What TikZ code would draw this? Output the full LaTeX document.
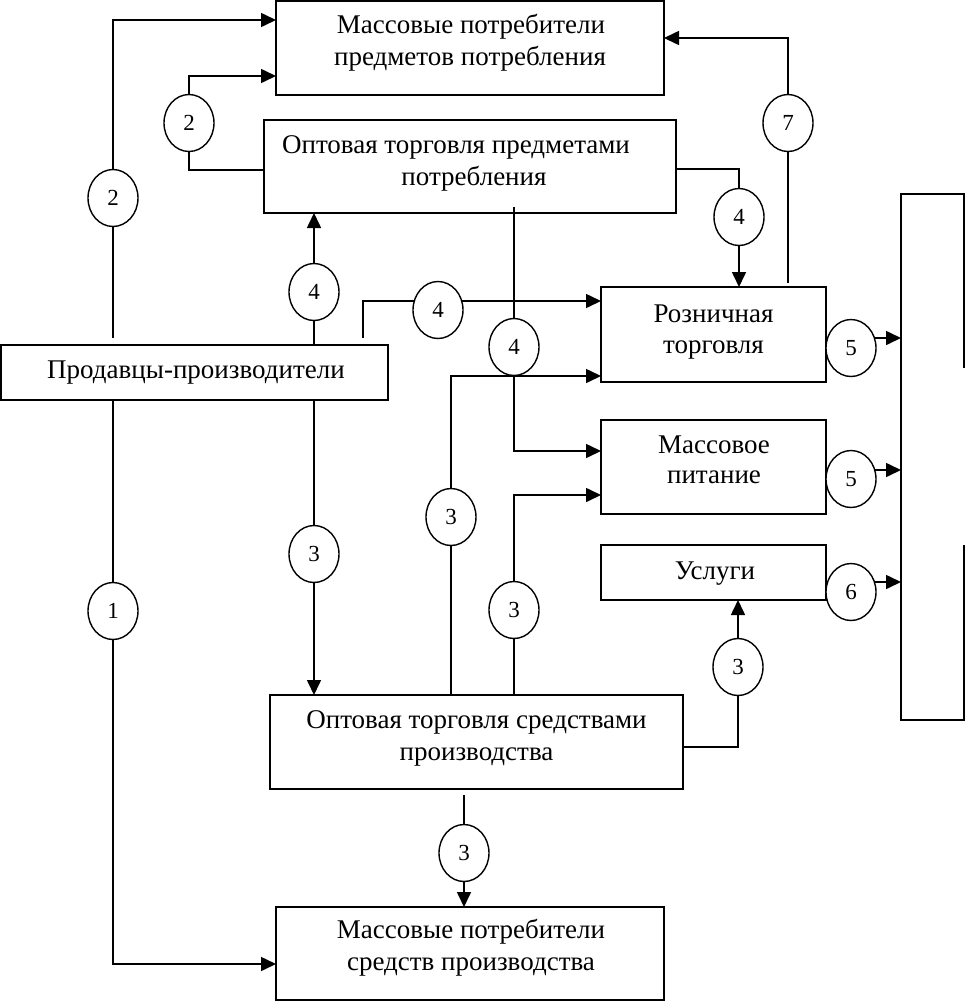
\documentclass[tikz,border=0pt]{standalone}
\usepackage{fontspec}
\setmainfont{Liberation Serif}
\usetikzlibrary{arrows.meta,shapes.geometric,backgrounds,calc}
\begin{document}
\begin{tikzpicture}[x=1pt,y=-1pt,
  box/.style args={#1/#2}{draw, line width=1.8pt, minimum width=#1pt, minimum height=#2pt, inner sep=0pt, outer sep=0pt},
  ghost/.style args={#1/#2}{minimum width=#1pt, minimum height=#2pt, inner sep=0pt, outer sep=0pt},
  txt/.style={font=\fontsize{27}{32}\selectfont, inner sep=0pt, anchor=base},
  circ/.style={ellipse, draw, line width=1.4pt, fill=white, minimum width=50pt, minimum height=57pt, inner sep=0pt, outer sep=0pt, font=\fontsize{23}{23}\selectfont},
  arr/.style={line width=1.6pt, -{Triangle[length=15pt,width=14pt]}},
  conn/.style={line width=1.6pt}]
\useasboundingbox (0,0) rectangle (965,1002);
% boxes
\node[box=388/94] (A) at (470,48) {};
\node[box=412/93] (B) at (470,166.5) {};
\node[box=387/55] (C) at (194.5,372.5) {};
\node[box=225/95] (D) at (713.5,334.5) {};
\node[box=225/94] (E) at (713.5,467) {};
\node[box=225/55] (F) at (713.5,572.5) {};
\node[box=413/94] (G) at (476.5,742) {};
\node[box=388/93] (H) at (470,953.5) {};
\node[ghost=63/526] (R) at (932.5,457) {};
\draw[line width=1.8pt] ($(R.north east)+(0,174)$) -- (R.north east) -- (R.north west) -- (R.south west) -- (R.south east) -- ($(R.south east)+(0,-175)$);
% texts
\node[txt] (tA1) at (471,33) {Массовые потребители};
\node[txt] (tA2) at (470,65) {предметов потребления};
\node[txt] (tB1) at (456,153) {Оптовая торговля предметами};
\node[txt] (tB2) at (474,185) {потребления};
\node[txt] (tC) at (196,378) {Продавцы-производители};
\node[txt] (tD1) at (713.5,322) {Розничная};
\node[txt] (tD2) at (713.5,353) {торговля};
\node[txt] (tE1) at (714,453) {Массовое};
\node[txt] (tE2) at (714,483) {питание};
\node[txt] (tF) at (715,579) {Услуги};
\node[txt] (tG1) at (476.5,728) {Оптовая торговля средствами};
\node[txt] (tG2) at (476.5,760) {производства};
\node[txt] (tH1) at (471,938) {Массовые потребители};
\node[txt] (tH2) at (471,970) {средств производства};
% circles
\node[circ] (e1) at (113,198) {2};
\node[circ] (e2) at (189,123) {2};
\node[circ] (e3) at (314,292) {4};
\node[circ] (e4) at (438,310) {4};
\node[circ] (e5) at (739,217) {4};
\node[circ] (e6) at (788,123) {7};
\node[circ] (e7) at (514,347) {4};
\node[circ] (e8) at (451,517) {3};
\node[circ] (e9) at (514,610) {3};
\node[circ] (e10) at (314,554) {3};
\node[circ] (e11) at (113,611) {1};
\node[circ] (e12) at (464,853) {3};
\node[circ] (e13) at (738,667) {3};
\node[circ] (e14) at (851,348) {5};
\node[circ] (e15) at (851,479) {5};
\node[circ] (e16) at (851,592) {6};
\coordinate (p14) at ($(e14.east)+(-1,-10)$);
\coordinate (p15) at ($(e15.east)+(-1,-9)$);
\coordinate (p16) at ($(e16.east)+(-1,-10)$);
\begin{pgfonlayer}{background}
\draw[arr] ($(e1 |- C.north)+(0,-7)$) -- (e1.center) |- ($(A.west)+(0,-28)$);
\draw[arr] ($(B.west)+(0,3.5)$) -| (e2.center) |- ($(A.west)+(0,28)$);
\draw[arr] (e3 |- C.north) -- (e3 |- B.south);
\draw[arr] ($(C.north)+(168.5,-7)$) |- ($(D.west)+(0,-33.5)$);
\draw[arr] ($(B.east)+(0,2.5)$) -| (e5.center) -- (e5 |- D.north);
\draw[arr] ($(e6 |- D.north)+(0,-4)$) -- (e6.center) |- ($(A.east)+(0,-10)$);
\draw[arr] ($(e7 |- B.south)+(0,-6)$) -- (e7.center) |- ($(E.west)+(0,-16)$);
\draw[arr] (e8 |- G.north) -- (e8.center) |- ($(D.west)+(0,41.5)$);
\draw[arr] (e9 |- G.north) -- (e9.center) |- ($(E.west)+(0,28)$);
\draw[arr] (e10 |- C.south) -- (e10 |- G.north);
\draw[arr] (e11 |- C.south) -- (e11.center) |- ($(H.west)+(0,10.5)$);
\draw[arr] ($(e12 |- G.south)+(0,6)$) -- (e12 |- H.north);
\draw[arr] ($(G.east)+(0,5)$) -| (e13.center) -- (e13 |- F.south);
\draw[arr] (p14) -- (p14 -| R.west);
\draw[arr] (p15) -- (p15 -| R.west);
\draw[arr] (p16) -- (p16 -| R.west);
\end{pgfonlayer}
\end{tikzpicture}
\end{document}
